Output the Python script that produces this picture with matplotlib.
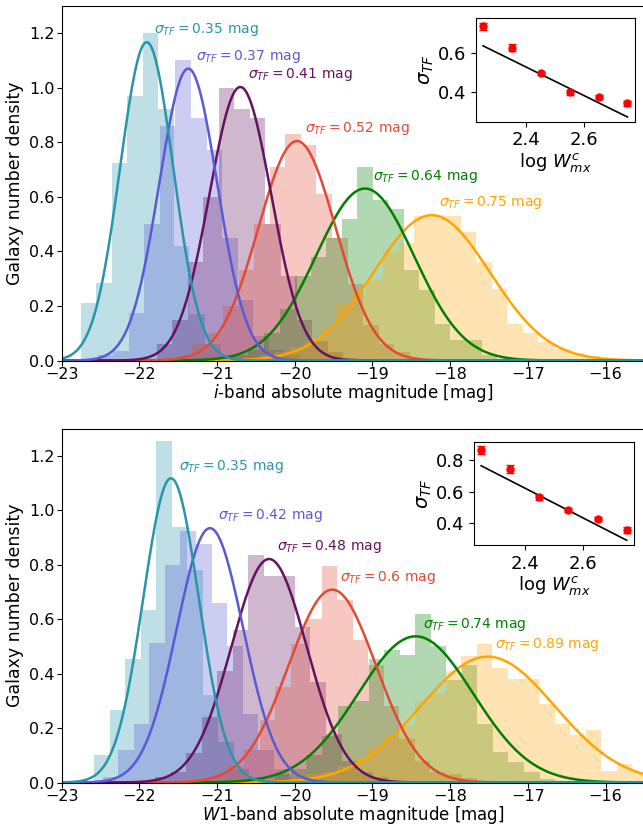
import numpy as np
import matplotlib.pyplot as plt

colors = ['#2896aa', '#5a5ad6', '#63135f', '#e34a33', 'green', 'orange']
bin_width = 0.2

# ---- top panel: i-band ----
i_start = [-22.754, -22.535, -21.776, -21.52, -20.795, -20.664]
i_hist = [
    [0.21, 0.285, 0.725, 0.97, 1.20, 0.92, 0.42, 0.17, 0.06, 0.02],
    [0.02, 0.035, 0.175, 0.50, 0.86, 1.10, 0.89, 0.77, 0.45, 0.22, 0.09, 0.04, 0.02],
    [0.06, 0.15, 0.36, 0.60, 1.00, 0.92, 0.89, 0.50, 0.31, 0.15, 0.07, 0.03, 0.01],
    [0.02, 0.06, 0.10, 0.20, 0.33, 0.50, 0.71, 0.83, 0.79, 0.61, 0.45, 0.28, 0.13, 0.06, 0.03],
    [0.02, 0.04, 0.10, 0.19, 0.31, 0.38, 0.45, 0.52, 0.71, 0.59, 0.555, 0.33, 0.26, 0.135,
     0.074, 0.074, 0.02],
    [0.01, 0.02, 0.03, 0.05, 0.07, 0.12, 0.21, 0.25, 0.30, 0.40, 0.43, 0.53, 0.535, 0.528,
     0.47, 0.36, 0.263, 0.135, 0.102, 0.069, 0.044, 0.026, 0.015, 0.008],
]
i_mu = [-21.905, -21.37, -20.70, -19.97, -19.095, -18.237]
i_sd = [0.342, 0.373, 0.398, 0.496, 0.633, 0.749]
i_label = ['0.35', '0.37', '0.41', '0.52', '0.64', '0.75']

# ---- bottom panel: W1-band ----
w_start = [-22.583, -22.47, -21.797, -21.253, -20.449, -20.255]
w_hist = [
    [0.10, 0.266, 0.452, 0.635, 1.254, 0.937, 0.78, 0.32, 0.15, 0.05, 0.02],
    [0.02, 0.118, 0.215, 0.513, 0.80, 0.923, 0.875, 0.66, 0.50, 0.25, 0.12, 0.05, 0.02],
    [0.02, 0.04, 0.11, 0.24, 0.41, 0.56, 0.836, 0.76, 0.76, 0.57, 0.37, 0.18, 0.08, 0.04, 0.02],
    [0.01, 0.03, 0.06, 0.12, 0.23, 0.35, 0.51, 0.60, 0.797, 0.672, 0.525, 0.43, 0.28, 0.16,
     0.08, 0.04, 0.03, 0.015],
    [0.01, 0.03, 0.05, 0.10, 0.17, 0.28, 0.30, 0.452, 0.485, 0.47, 0.619, 0.50, 0.375, 0.43,
     0.215, 0.111, 0.075, 0.038, 0.014],
    [0.01, 0.02, 0.03, 0.04, 0.06, 0.09, 0.13, 0.17, 0.21, 0.30, 0.33, 0.41, 0.465, 0.51,
     0.422, 0.379, 0.379, 0.29, 0.215, 0.176, 0.193, 0.042, 0.068, 0.04],
]
w_mu = [-21.592, -21.09, -20.33, -19.516, -18.443, -17.516]
w_sd = [0.357, 0.427, 0.486, 0.563, 0.743, 0.863]
w_label = ['0.35', '0.42', '0.48', '0.6', '0.74', '0.89']

# ---- insets: scatter vs log W ----
logw = [2.25, 2.35, 2.45, 2.55, 2.65, 2.75]
i_sig = [0.738, 0.629, 0.497, 0.400, 0.376, 0.343]
i_sig_err = [0.017, 0.016, 0.008, 0.013, 0.010, 0.013]
i_fit = [-0.73, 2.2805]
w_sig = [0.864, 0.745, 0.564, 0.483, 0.426, 0.356]
w_sig_err = [0.023, 0.024, 0.016, 0.013, 0.013, 0.021]
w_fit = [-0.948, 2.897]


def draw_panel(ax, starts, hists, mus, sds, labels, xlabel):
    for s, h, c in zip(starts, hists, colors):
        edges = s + bin_width * np.arange(len(h) + 1)
        ax.stairs(h, edges, fill=True, color=c, alpha=0.3, linewidth=0)
    x = np.linspace(-23, -15.5, 600)
    for mu, sd, c, lab in reversed(list(zip(mus, sds, colors, labels))):
        peak = 1.0 / (sd * np.sqrt(2 * np.pi))
        ax.plot(x, peak * np.exp(-0.5 * ((x - mu) / sd) ** 2), color=c, lw=1.8)
        ax.text(mu + 0.1, peak + 0.045, r'$\sigma_{TF} = %s$ mag' % lab,
                color=c, fontsize=10, ha='left', va='center')
    ax.set_xlim(-23, -15.5)
    ax.set_ylim(0, 1.3)
    ax.set_xticks(np.arange(-23, -15, 1))
    ax.set_yticks(np.arange(0, 1.3, 0.2))
    ax.tick_params(labelsize=11.5, pad=1.5)
    ax.set_xlabel(xlabel, fontsize=12, labelpad=-0.5)
    ax.set_ylabel('Galaxy number density', fontsize=12.5)


def draw_inset(ax, sig, err, fit):
    xx = np.array([logw[0], logw[-1]])
    ax.plot(xx, fit[0] * xx + fit[1], color='k', lw=1.2)
    ax.errorbar(logw, sig, yerr=err, fmt='o', color='red', ms=5, capsize=3, lw=1.2)
    ax.set_xticks([2.4, 2.6])
    ax.tick_params(labelsize=13)
    ax.set_xlabel(r'log $W^c_{mx}$', fontsize=13, labelpad=1)
    ax.set_ylabel(r'$\sigma_{TF}$', fontsize=14, labelpad=1)


fig = plt.figure(figsize=(6.43, 8.25), dpi=100)
ax1 = fig.add_axes([0.0958, 0.5630, 0.9063, 0.4300])
ax2 = fig.add_axes([0.0958, 0.0515, 0.9063, 0.4290])
draw_panel(ax1, i_start, i_hist, i_mu, i_sd, i_label, r'$i$-band absolute magnitude [mag]')
draw_panel(ax2, w_start, w_hist, w_mu, w_sd, w_label, r'$W1$-band absolute magnitude [mag]')

in1 = fig.add_axes([0.740, 0.8525, 0.247, 0.1253])
in2 = fig.add_axes([0.737, 0.3394, 0.249, 0.1252])
draw_inset(in1, i_sig, i_sig_err, i_fit)
draw_inset(in2, w_sig, w_sig_err, w_fit)
in1.set_yticks([0.4, 0.6])
in2.set_yticks([0.4, 0.6, 0.8])

fig.savefig('out.png', dpi=100)
